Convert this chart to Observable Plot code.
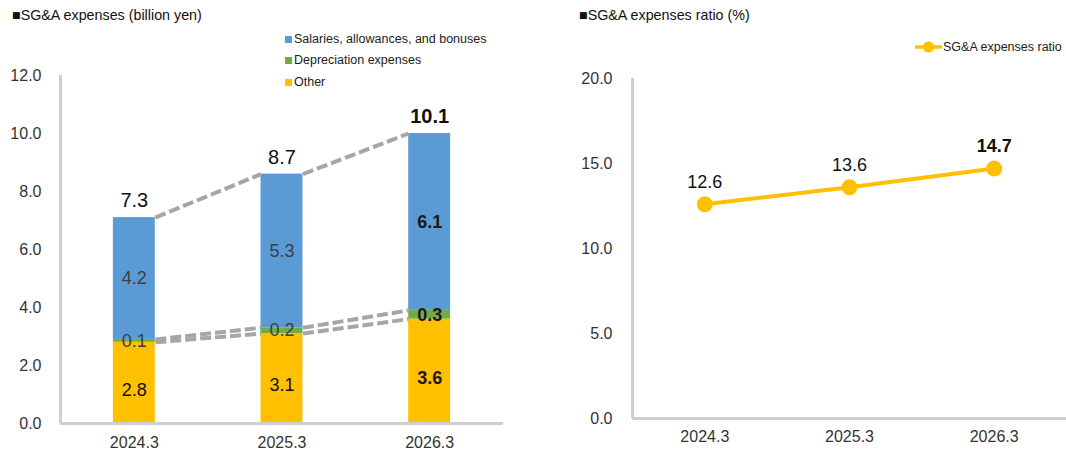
<!DOCTYPE html>
<html><head><meta charset="utf-8">
<script src="https://cdn.jsdelivr.net/npm/d3@7"></script>
<script src="https://cdn.jsdelivr.net/npm/@observablehq/plot@0.6"></script>
<style>
body{margin:0;background:#fff;font-family:Arial,"Liberation Sans",sans-serif;}
#wrap{position:relative;width:1066px;height:455px;overflow:hidden;background:#fff;}
.abs{position:absolute;}
.title{font-size:14.3px;color:#111;white-space:nowrap;line-height:16px;}
.leg{font-size:12.5px;color:#222;white-space:nowrap;line-height:14px;display:flex;align-items:center;}
.sq{display:inline-block;width:7px;height:7px;margin-right:2px;}
</style></head><body>
<div id="wrap">
  <div id="left" class="abs" style="left:0;top:0"></div>
  <div id="right" class="abs" style="left:540px;top:0"></div>
  <div class="abs title" style="left:12px;top:7px">■SG&amp;A expenses (billion yen)</div>
  <div class="abs title" style="left:579px;top:7px">■SG&amp;A expenses ratio (%)</div>
  <div id="legL"></div>
  <div id="legR"></div>
</div>
<script>
const periods = ["2024.3", "2025.3", "2026.3"];
const other = [2.8, 3.1, 3.6];
const depreciation = [0.1, 0.2, 0.3];
const salaries = [4.2, 5.3, 6.1];
const totals = [7.3, 8.7, 10.1];
const ratio = [12.6, 13.6, 14.7];
const seriesNames = ["Salaries, allowances, and bonuses", "Depreciation expenses", "Other"];
const seriesColors = ["#5B9BD5", "#70AD47", "#FFC000"];
const ratioName = "SG&A expenses ratio";
const ratioColor = "#FFC000";
const leftTicks = [0, 2, 4, 6, 8, 10, 12];
const rightTicks = [0, 5, 10, 15, 20];

const font = 'Arial, "Liberation Sans", sans-serif';
const axisColor = "#CFCFCF";
const hw = 0.142; // half bar width in category units
const idx = periods.map((_, i) => i);

// stacked segments
const segs = [];
idx.forEach(i => {
  const b0 = 0, b1 = other[i], b2 = other[i] + depreciation[i], b3 = b2 + salaries[i];
  segs.push({i, s: 2, y1: b0, y2: b1, v: other[i]});
  segs.push({i, s: 1, y1: b1, y2: b2, v: depreciation[i]});
  segs.push({i, s: 0, y1: b2, y2: b3, v: salaries[i]});
});
const tops = idx.map(i => other[i] + depreciation[i] + salaries[i]);
const levels = [
  idx.map(i => other[i]),
  idx.map(i => other[i] + depreciation[i]),
  tops
];
const links = [];
levels.forEach(lv => {
  for (let i = 0; i < lv.length - 1; i++) links.push({x1: i + hw, x2: i + 1 - hw, y1: lv[i], y2: lv[i + 1]});
});
const last = periods.length - 1;
const labelFill = ["#3a3f47", "#3a3f47", "#111"];
const labelDy = [0, 0, 7];

const leftMarks = [
  Plot.rect(segs, {x1: d => d.i - hw, x2: d => d.i + hw, y1: "y1", y2: "y2", fill: d => seriesColors[d.s]}),
  Plot.link(links, {x1: "x1", x2: "x2", y1: "y1", y2: "y2", stroke: "#A6A6A6", strokeWidth: 4, strokeDasharray: "11,4"}),
  Plot.ruleY([0], {stroke: axisColor, strokeWidth: 3}),
  Plot.ruleX([-0.5], {y1: 0, y2: leftTicks[leftTicks.length - 1], stroke: axisColor, strokeWidth: 3}),
  Plot.axisY({ticks: leftTicks, tickSize: 0, tickPadding: 19, tickFormat: d => d.toFixed(1), label: null, fontSize: 16}),
  Plot.axisX({ticks: idx, tickSize: 0, tickPadding: 13, tickFormat: i => periods[i], label: null, fontSize: 16})
];
[false, true].forEach(bold => {
  [0, 1, 2].forEach(s => {
    const sel = segs.filter(d => (d.i === last) === bold && d.s === s);
    leftMarks.push(Plot.text(sel, {x: "i", y: d => (d.y1 + d.y2) / 2, dy: labelDy[s], text: d => d.v.toFixed(1),
      fill: bold ? "#1a1a1a" : labelFill[s], fontSize: 18, fontWeight: bold ? "bold" : "normal", fontFamily: font}));
  });
  const tsel = idx.filter(i => (i === last) === bold);
  leftMarks.push(Plot.text(tsel, {x: i => i, y: i => tops[i], dy: -17, text: i => totals[i].toFixed(1),
    fill: "#111", fontSize: 20, fontWeight: bold ? "bold" : "normal", fontFamily: font}));
});

const left = Plot.plot({
  width: 533, height: 455,
  marginLeft: 60, marginRight: 30, marginTop: 75, marginBottom: 32,
  x: {type: "linear", domain: [-0.5, periods.length - 0.5], axis: null},
  y: {domain: [0, 12], axis: null},
  style: {fontFamily: font, color: "#333", background: "transparent", overflow: "visible"},
  marks: leftMarks
});
document.getElementById("left").append(left);

const rightMarks = [
  Plot.ruleY([0], {stroke: axisColor, strokeWidth: 3}),
  Plot.ruleX([-0.5], {y1: 0, y2: rightTicks[rightTicks.length - 1], stroke: axisColor, strokeWidth: 3}),
  Plot.axisY({ticks: rightTicks, tickSize: 0, tickPadding: 20, tickFormat: d => d.toFixed(1), label: null, fontSize: 16}),
  Plot.axisX({ticks: idx, tickSize: 0, tickPadding: 12, tickFormat: i => periods[i], label: null, fontSize: 16}),
  Plot.line(idx, {x: i => i, y: i => ratio[i], stroke: ratioColor, strokeWidth: 4}),
  Plot.dot(idx, {x: i => i, y: i => ratio[i], r: 8, fill: ratioColor}),
  Plot.text(idx.filter(i => i !== last), {x: i => i, y: i => ratio[i], dy: -22, text: i => ratio[i].toFixed(1), fill: "#111", fontSize: 18, fontFamily: font}),
  Plot.text([last], {x: i => i, y: i => ratio[i], dy: -22, text: i => ratio[i].toFixed(1), fill: "#111", fontSize: 18, fontWeight: "bold", fontFamily: font})
];
const right = Plot.plot({
  width: 526, height: 455,
  marginLeft: 92, marginRight: 0, marginTop: 78, marginBottom: 37,
  x: {type: "linear", domain: [-0.5, periods.length - 0.5], axis: null},
  y: {domain: [0, 20], axis: null},
  style: {fontFamily: font, color: "#333", background: "transparent", overflow: "visible"},
  marks: rightMarks
});
document.getElementById("right").append(right);

// legends
const legL = document.getElementById("legL");
const legTop = [32, 53, 75];
seriesNames.forEach((n, k) => {
  const d = document.createElement("div");
  d.className = "abs leg";
  d.style.left = "285px"; d.style.top = legTop[k] + "px";
  d.innerHTML = `<span class="sq" style="background:${seriesColors[k]}"></span>`;
  d.append(document.createTextNode(n));
  legL.append(d);
});
const legR = document.getElementById("legR");
const dr = document.createElement("div");
dr.className = "abs leg";
dr.style.left = "914px"; dr.style.top = "40px";
dr.innerHTML = `<svg width="29" height="14" style="margin-right:0px"><line x1="1" x2="28" y1="7" y2="7" stroke="${ratioColor}" stroke-width="3.5"/><circle cx="14.5" cy="7" r="5.5" fill="${ratioColor}"/></svg>`;
dr.append(document.createTextNode(ratioName));
legR.append(dr);
</script>
</body></html>
